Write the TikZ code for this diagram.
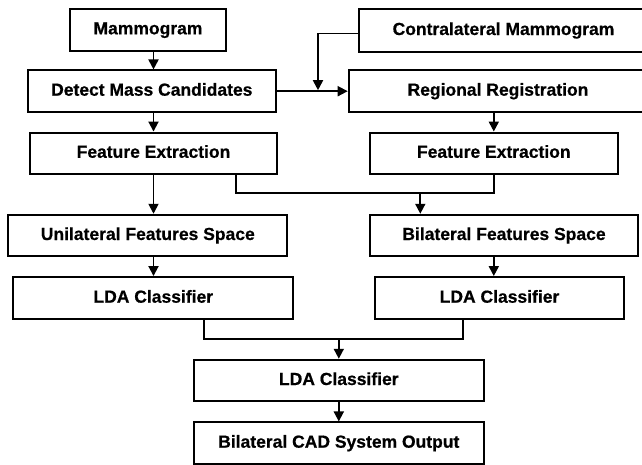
\documentclass[tikz,border=0pt]{standalone}
\usepackage{fontspec}
\setmainfont{Liberation Sans}[BoldFeatures={FakeBold=0.6}]
\usetikzlibrary{arrows.meta,calc}
\begin{document}
\begin{tikzpicture}[x=1pt,y=-1pt,
  box/.style={draw, rectangle, line width=2pt, inner sep=0pt,
    minimum height=41.5pt, text height=12.6pt, text depth=3.6pt,
    font=\bfseries\fontsize{17.5}{20}\selectfont},
  link/.style={line width=1.8pt},
  arr/.style={link, -{Triangle[length=10pt,width=10pt]}}]

\useasboundingbox[fill=white] (0,0) rectangle (642,464);

% processing stages
\node[box, minimum width=155.7pt] (mam) at (148,29.8) {Mammogram};
\node[box, minimum width=288.4pt, minimum height=42.4pt] (contra) at (503.5,30.5) {Contralateral Mammogram};
\node[box, minimum width=248.3pt] (detect) at (151.8,91.2) {Detect Mass Candidates};
\node[box, minimum width=298.6pt] (reg) at (498,91.2) {Regional Registration};
\node[box, minimum width=247pt] (feL) at (153.5,153.3) {Feature Extraction};
\node[box, minimum width=247.7pt] (feR) at (493.8,153.3) {Feature Extraction};
\node[box, minimum width=279pt] (uni) at (147.8,235.5) {Unilateral Features Space};
\node[box, minimum width=267.4pt] (bil) at (504,235.5) {Bilateral Features Space};
\node[box, minimum width=280pt, minimum height=42.3pt] (ldaL) at (153.3,298.2) {LDA Classifier};
\node[box, minimum width=248.4pt, minimum height=42.3pt] (ldaR) at (499.5,298.2) {LDA Classifier};
\node[box, minimum width=289.7pt] (ldaM) at (338.8,380.5) {LDA Classifier};
\node[box, minimum width=289.7pt] (out) at (338.8,443.2) {Bilateral CAD System Output};

% junction points
\coordinate (cjoin) at (318,0 |- detect.east);
\coordinate (b1) at (236,193.3);
\coordinate (b1m) at (420.3,193.3);
\coordinate (b2) at (204.3,339.3);
\coordinate (b2e) at (462.7,339.3);

% left column
\draw[arr] (mam.south -| feL.north) -- (detect.north -| feL.north);
\draw[arr] (detect.south -| feL.north) -- (feL.north);
\draw[arr] (feL.south) -- (uni.north -| feL.south);
\draw[arr] (uni.south -| feL.south) -- (ldaL.north -| feL.south);

% contralateral input and registration
\draw[arr] ([yshift=-3pt]contra.west) -| ([yshift=1pt]cjoin);
\draw[arr] (detect.east) -- (reg.west);

% right column
\draw[arr] (reg.south -| feR.north) -- (feR.north);
\draw[arr] (bil.south -| feR.south) -- (ldaR.north -| feR.south);

% bilateral feature merge
\draw[link] (b1 |- feL.south) -- (b1) -| (feR.south);
\draw[arr] (b1m) -- (b1m |- bil.north);

% classifier fusion
\draw[link] (b2 |- ldaL.south) -- (b2) -- (b2e) -- (b2e |- ldaR.south);
\draw[arr] (ldaM.north |- b2) -- (ldaM.north);
\draw[arr] (ldaM.south) -- (out.north);
\end{tikzpicture}
\end{document}
